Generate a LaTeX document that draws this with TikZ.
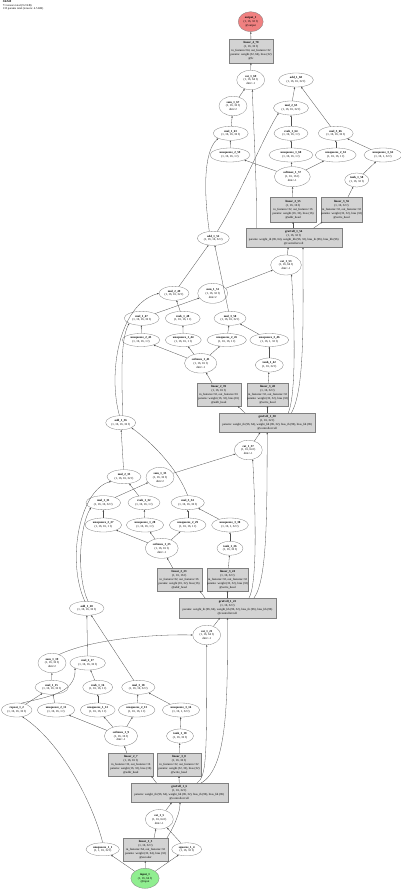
\documentclass[tikz,border=0pt]{standalone}
\usepackage{fontspec}
\setmainfont{Liberation Serif}
\usetikzlibrary{shapes.geometric,arrows.meta}
\definecolor{outred}{HTML}{F08080}
\definecolor{ingreen}{HTML}{90EE90}
\definecolor{boxgray}{HTML}{D3D3D3}
\definecolor{linegray}{HTML}{808080}
\definecolor{edgegray}{HTML}{505050}
\newcommand\zl[1]{\makebox[0pt]{#1}}
\newcommand\fsz{\fontsize{3}{3.9}\selectfont}
\begin{document}
\begin{tikzpicture}[x=1pt,y=-1pt,
  ell/.style={ellipse,draw=linegray,fill=white,line width=0.3pt,inner sep=0pt,align=center,font=\fsz},
  opbox/.style={rectangle,draw=linegray,fill=boxgray,line width=0.3pt,inner sep=0pt,align=center,font=\fsz},
  e/.style={draw=edgegray,line width=0.3pt,-{Triangle[length=1.7pt,width=1.4pt]}},
  e2/.style={ell,minimum height=14},
  e3/.style={ell,minimum height=19.5}]
\useasboundingbox (0,0) rectangle (400,890);
\fill[white] (0,0) rectangle (400,890);
\node[anchor=north west,inner sep=0pt,align=left,font=\fontsize{2.9}{3.4}\selectfont] (hdr) at (2.7,0.8)
 {\textbf{SRAM}\\71 tensors total (9.2 KB)\\133 params total (tensors: 4.5 KB)};

% ---------------- block 4 (top) ----------------
\node[e3,fill=outred,minimum width=25,minimum height=20] (out) at (250.7,21.7) {\textbf{output\_1}\\(1, 16, 32 f)\\@output};
\node[opbox,minimum width=44.6,minimum height=23.4] (lin4) at (251,51) {\zl{\textbf{linear\_4\_70}}\\\zl{(1, 16, 32 f)}\\\zl{in\_features=64, out\_features=32}\\\zl{params: weight (32, 64), bias (32)}\\\zl{@fc}};
\node[e3,minimum width=28] (cat69) at (250.7,80) {\textbf{cat\_1\_69}\\(1, 16, 64 f)\\dim=-1};
\node[e2,minimum width=34.7] (add4) at (296,80) {\textbf{add\_1\_68}\\(1, 16, 16, 32 f)};
\node[e3,minimum width=28] (sum4) at (233,106) {\textbf{sum\_1\_67}\\(1, 16, 32 f)\\dim=2};
\node[e2,minimum width=35] (mule4) at (291,108) {\textbf{mul\_2\_65}\\(1, 16, 16, 32 f)};
\node[e2,minimum width=35] (mulr4) at (230.7,133.3) {\textbf{mul\_1\_63}\\(1, 16, 16, 32 f)};
\node[e2,minimum width=34] (rsub4) at (291,133.3) {\textbf{rsub\_1\_64}\\(1, 16, 16, 1 f)};
\node[e2,minimum width=35] (mulw4) at (335.7,133.3) {\textbf{mul\_3\_66}\\(1, 16, 16, 32 f)};
\node[e2,minimum width=40] (unsqA4) at (230,155) {\textbf{unsqueeze\_2\_59}\\(1, 16, 16, 1 f)};
\node[e2,minimum width=44] (unsqB4) at (291,155) {\textbf{unsqueeze\_1\_60}\\(1, 16, 16, 1 f)};
\node[e2,minimum width=41] (unsqC4) at (335.7,155) {\textbf{unsqueeze\_2\_61}\\(1, 16, 16, 1 f)};
\node[e2,minimum width=38] (unsqD4) at (383,155) {\textbf{unsqueeze\_3\_62}\\(1, 16, 1, 32 f)};
\node[e3,minimum width=36,minimum height=20] (soft4) at (292.3,176.7) {\textbf{softmax\_1\_57}\\(1, 16, 16 f)\\dim=-1};
\node[e2,minimum width=24] (tanh4) at (356.7,180) {\textbf{tanh\_1\_58}\\(1, 16, 32 f)};
\node[opbox,minimum width=45.7,minimum height=24.4] (linA4) at (293,209.5) {\zl{\textbf{linear\_2\_55}}\\\zl{(1, 16, 16 f)}\\\zl{in\_features=32, out\_features=16}\\\zl{params: weight (16, 32), bias (16)}\\\zl{@addr\_head}};
\node[opbox,minimum width=41.7,minimum height=24.4] (linB4) at (341.5,209.5) {\zl{\textbf{linear\_3\_56}}\\\zl{(1, 16, 32 f)}\\\zl{in\_features=32, out\_features=32}\\\zl{params: weight (32, 32), bias (32)}\\\zl{@write\_head}};
\node[opbox,minimum width=96,minimum height=19] (gru4) at (293.7,237.8) {\zl{\textbf{gruCell\_1\_54}}\\\zl{(1, 16, 32 f)}\\\zl{params: weight\_ih (96, 64), weight\_hh (96, 32), bias\_ih (96), bias\_hh (96)}\\\zl{@controller/cell}};
\node[e3,minimum width=30.7,minimum height=20] (cat4) at (286,265) {\textbf{cat\_1\_53}\\(1, 16, 64 f)\\dim=-1};

% ---------------- block 3 ----------------
\node[e2,minimum width=32] (add3) at (213.3,238.3) {\textbf{add\_1\_52}\\(1, 16, 16, 32 f)};
\node[e2,minimum width=30] (mule3) at (174,293.3) {\textbf{mul\_2\_49}\\(1, 16, 16, 32 f)};
\node[e3,minimum width=30,minimum height=20] (sum3) at (212.7,293.3) {\textbf{sum\_1\_51}\\(1, 16, 32 f)\\dim=2};
\node[e2,minimum width=35] (mulr3) at (141.7,318.3) {\textbf{mul\_1\_47}\\(1, 16, 16, 32 f)};
\node[e2,minimum width=35] (rsub3) at (182.7,318.3) {\textbf{rsub\_1\_48}\\(1, 16, 16, 1 f)};
\node[e2,minimum width=32] (mulw3) at (230,318.3) {\textbf{mul\_3\_50}\\(1, 16, 16, 32 f)};
\node[ell,minimum width=37.7,minimum height=13] (unsqA3) at (141,340) {\textbf{unsqueeze\_2\_43}\\(1, 16, 16, 1 f)};
\node[ell,minimum width=36,minimum height=13] (unsqB3) at (183.3,340) {\textbf{unsqueeze\_1\_44}\\(1, 16, 16, 1 f)};
\node[ell,minimum width=39.4,minimum height=13] (unsqC3) at (226.7,340) {\textbf{unsqueeze\_2\_45}\\(1, 16, 16, 1 f)};
\node[ell,minimum width=39,minimum height=13] (unsqD3) at (269.3,340) {\textbf{unsqueeze\_3\_46}\\(1, 16, 1, 32 f)};
\node[e3,minimum width=32.3] (soft3) at (200.7,363.3) {\textbf{softmax\_1\_41}\\(1, 16, 16 f)\\dim=-1};
\node[e2,minimum width=28] (tanh3) at (269.3,365) {\textbf{tanh\_1\_42}\\(1, 16, 32 f)};
\node[opbox,minimum width=44,minimum height=22.7] (linA3) at (218.7,394.7) {\zl{\textbf{linear\_2\_39}}\\\zl{(1, 16, 16 f)}\\\zl{in\_features=32, out\_features=16}\\\zl{params: weight (16, 32), bias (16)}\\\zl{@addr\_head}};
\node[opbox,minimum width=41.7,minimum height=22.7] (linB3) at (267.5,394.7) {\zl{\textbf{linear\_3\_40}}\\\zl{(1, 16, 32 f)}\\\zl{in\_features=32, out\_features=32}\\\zl{params: weight (32, 32), bias (32)}\\\zl{@write\_head}};
\node[opbox,minimum width=95.7,minimum height=19] (gru3) at (267.2,422.8) {\zl{\textbf{gruCell\_1\_38}}\\\zl{(1, 16, 32 f)}\\\zl{params: weight\_ih (96, 64), weight\_hh (96, 32), bias\_ih (96), bias\_hh (96)}\\\zl{@controller/cell}};
\node[e3,minimum width=28] (cat3) at (248.3,450) {\textbf{cat\_1\_37}\\(1, 16, 64 f)\\dim=-1};

% ---------------- block 2 ----------------
\node[e2,minimum width=30] (add2) at (120.7,422.7) {\textbf{add\_1\_36}\\(1, 16, 16, 32 f)};
\node[e2,minimum width=34] (mule2) at (124,476.7) {\textbf{mul\_2\_33}\\(1, 16, 16, 32 f)};
\node[e3,minimum width=28,minimum height=20] (sum2) at (160,477.3) {\textbf{sum\_1\_35}\\(1, 16, 32 f)\\dim=2};
\node[e2,minimum width=34.7] (mulr2) at (103.3,502.7) {\textbf{mul\_1\_31}\\(1, 16, 16, 32 f)};
\node[e2,minimum width=32] (rsub2) at (144,502.7) {\textbf{rsub\_1\_32}\\(1, 16, 16, 1 f)};
\node[e2,minimum width=33.3] (mulw2) at (187.7,502.7) {\textbf{mul\_3\_34}\\(1, 16, 16, 32 f)};
\node[e2,minimum width=36.7] (unsqA2) at (103.3,525) {\textbf{unsqueeze\_2\_27}\\(1, 16, 16, 1 f)};
\node[e2,minimum width=37.3] (unsqB2) at (145,525) {\textbf{unsqueeze\_1\_28}\\(1, 16, 16, 1 f)};
\node[e2,minimum width=36.7] (unsqC2) at (187.7,525) {\textbf{unsqueeze\_2\_29}\\(1, 16, 16, 1 f)};
\node[e2,minimum width=36.7] (unsqD2) at (230,525) {\textbf{unsqueeze\_3\_30}\\(1, 16, 1, 32 f)};
\node[e3,minimum width=33,minimum height=20] (soft2) at (161.7,548.3) {\textbf{softmax\_1\_25}\\(1, 16, 16 f)\\dim=-1};
\node[e2,minimum width=26] (tanh2) at (230,548.3) {\textbf{tanh\_1\_26}\\(1, 16, 32 f)};
\node[opbox,minimum width=45,minimum height=22.4] (linA2) at (179.2,579.5) {\zl{\textbf{linear\_2\_23}}\\\zl{(1, 16, 16 f)}\\\zl{in\_features=32, out\_features=16}\\\zl{params: weight (16, 32), bias (16)}\\\zl{@addr\_head}};
\node[opbox,minimum width=41.6,minimum height=22.4] (linB2) at (227.5,579.5) {\zl{\textbf{linear\_3\_24}}\\\zl{(1, 16, 32 f)}\\\zl{in\_features=32, out\_features=32}\\\zl{params: weight (32, 32), bias (32)}\\\zl{@write\_head}};
\node[opbox,minimum width=96.4,minimum height=19.3] (gru2) at (227.5,608) {\zl{\textbf{gruCell\_1\_22}}\\\zl{(1, 16, 32 f)}\\\zl{params: weight\_ih (96, 64), weight\_hh (96, 32), bias\_ih (96), bias\_hh (96)}\\\zl{@controller/cell}};
\node[e3,minimum width=28] (cat2) at (206.7,635) {\textbf{cat\_1\_21}\\(1, 16, 64 f)\\dim=-1};

% ---------------- block 1 (bottom) ----------------
\node[e2,minimum width=34.7] (add1) at (86.7,608.3) {\textbf{add\_1\_20}\\(1, 16, 16, 32 f)};
\node[e3,minimum width=28] (sum1) at (52,663) {\textbf{sum\_1\_19}\\(1, 16, 32 f)\\dim=2};
\node[e2,minimum width=35.7] (mule1) at (87.7,663) {\textbf{mul\_2\_17}\\(1, 16, 16, 32 f)};
\node[e2,minimum width=33.3] (mulr1) at (51.7,687.3) {\textbf{mul\_1\_15}\\(1, 16, 16, 32 f)};
\node[e2,minimum width=30] (rsub1) at (97.7,687.3) {\textbf{rsub\_1\_16}\\(1, 16, 16, 1 f)};
\node[e2,minimum width=33.3] (mulw1) at (138.3,687.3) {\textbf{mul\_3\_18}\\(1, 16, 16, 32 f)};
\node[e2,minimum width=30.7] (rep) at (16.7,710) {\textbf{repeat\_1\_2}\\(1, 16, 16, 32 f)};
\node[e2,minimum width=37.7] (unsqA1) at (56,710) {\textbf{unsqueeze\_2\_11}\\(1, 16, 16, 1 f)};
\node[e2,minimum width=35] (unsqB1) at (97.7,710) {\textbf{unsqueeze\_1\_12}\\(1, 16, 16, 1 f)};
\node[e2,minimum width=36.7] (unsqC1) at (136.7,710) {\textbf{unsqueeze\_2\_13}\\(1, 16, 16, 1 f)};
\node[e2,minimum width=37.3] (unsqD1) at (181,710) {\textbf{unsqueeze\_3\_14}\\(1, 16, 1, 32 f)};
\node[e3,minimum width=33.3,minimum height=20] (soft1) at (121,736) {\textbf{softmax\_1\_9}\\(1, 16, 16 f)\\dim=-1};
\node[e2,minimum width=27] (tanh1) at (180,736) {\textbf{tanh\_1\_10}\\(1, 16, 32 f)};
\node[opbox,minimum width=45,minimum height=22.7] (linA1) at (130.8,764.7) {\zl{\textbf{linear\_2\_7}}\\\zl{(1, 16, 16 f)}\\\zl{in\_features=32, out\_features=16}\\\zl{params: weight (16, 32), bias (16)}\\\zl{@addr\_head}};
\node[opbox,minimum width=43.3,minimum height=22.7] (linB1) at (179,764.7) {\zl{\textbf{linear\_3\_8}}\\\zl{(1, 16, 32 f)}\\\zl{in\_features=32, out\_features=32}\\\zl{params: weight (32, 32), bias (32)}\\\zl{@write\_head}};
\node[opbox,minimum width=97,minimum height=19] (gru1) at (179.2,792.8) {\zl{\textbf{gruCell\_1\_6}}\\\zl{(1, 16, 32 f)}\\\zl{params: weight\_ih (96, 64), weight\_hh (96, 32), bias\_ih (96), bias\_hh (96)}\\\zl{@controller/cell}};
\node[e3,minimum width=28] (cat1) at (159.3,819.3) {\textbf{cat\_1\_5}\\(1, 16, 64 f)\\dim=-1};
\node[opbox,minimum width=44.4,minimum height=22.4] (lin1) at (145.5,849.5) {\zl{\textbf{linear\_1\_3}}\\\zl{(1, 16, 32 f)}\\\zl{in\_features=64, out\_features=32}\\\zl{params: weight (32, 64), bias (32)}\\\zl{@encoder}};
\node[ell,minimum width=33.3,minimum height=13] (unsq11) at (102.7,849.3) {\textbf{unsqueeze\_1\_1}\\(1, 1, 16, 32 f)};
\node[ell,minimum width=30,minimum height=13] (sq14) at (186.7,849.3) {\textbf{squeeze\_1\_4}\\(1, 16, 32 f)};
\node[e3,fill=ingreen,minimum width=28.3,minimum height=20] (inp) at (145,878.3) {\textbf{input\_1}\\(1, 16, 64 f)\\@input};

% ---------------- edges: block 4 ----------------
\draw[e] (lin4) -- (out);
\draw[e] (cat69) -- (lin4);
\draw[e] (sum4) -- (cat69);
\draw[e] ([xshift=11]gru4.north west) .. controls (257,180) and (253,120) .. (cat69.-80);
\draw[e] (mulr4) -- (sum4);
\draw[e] (mule4) -- (add4);
\draw[e] (mulw4) -- (add4);
\draw[e] (rsub4) -- (mule4);
\draw[e] (unsqB4) -- (rsub4);
\draw[e] (unsqA4) -- (mulr4);
\draw[e] (unsqC4) -- (mulw4);
\draw[e] (unsqD4) -- (mulw4);
\draw[e] (soft4) -- (unsqA4);
\draw[e] (soft4) -- (unsqB4);
\draw[e] (soft4) -- (unsqC4);
\draw[e] (tanh4) -- (unsqD4);
\draw[e] (linA4) -- (soft4);
\draw[e] (linB4) -- (tanh4);
\draw[e] (gru4.north -| linA4.south) -- (linA4.south);
\draw[e] ([xshift=68]gru4.north west) -- ([xshift=2]linB4.south west);
\draw[e] (cat4) -- ([xshift=-5.5]gru4.south);
\draw[e] (add3.120) .. controls (204,195) and (203,152) .. (mulr4.south west);
\draw[e] (add3.60) .. controls (240,195) and (262,140) .. (mule4.south west);
\draw[e] (sum3) -- (cat4);
\draw[e] ([xshift=-27]gru3.north east) .. controls (296,395) and (295,330) .. (cat4.-60);
\draw[e] ([xshift=-24]gru3.north east) .. controls (305,390) and (303,320) .. ([xshift=9.3]gru4.south);

% ---------------- edges: block 3 ----------------
\draw[e] (mule3) -- (add3);
\draw[e] (mulw3) -- (add3);
\draw[e] (rsub3) -- (mule3);
\draw[e] (mulr3) -- (sum3);
\draw[e] (unsqA3) -- (mulr3);
\draw[e] (unsqB3) -- (rsub3);
\draw[e] (unsqC3) -- (mulw3);
\draw[e] (unsqD3) -- (mulw3);
\draw[e] (soft3) -- (unsqA3);
\draw[e] (soft3) -- (unsqB3);
\draw[e] (soft3) -- (unsqC3);
\draw[e] (tanh3) -- (unsqD3);
\draw[e] (linA3) -- (soft3);
\draw[e] (linB3) -- (tanh3);
\draw[e] ([xshift=-22]gru3.north) -- ([xshift=-3]linA3.south east);
\draw[e] (gru3.north -| linB3.south) -- (linB3.south);
\draw[e] (cat3) -- ([xshift=-7]gru3.south);
\draw[e] (add2.100) .. controls (108,375) and (118,305) .. (mule3.west);
\draw[e] (add2.75) .. controls (122,380) and (120,340) .. (mulr3.south west);
\draw[e] (sum2) -- (cat3);
\draw[e] ([xshift=-27]gru2.north east) .. controls (257,585) and (256,520) .. (cat3.-65);
\draw[e] ([xshift=-22]gru2.north east) .. controls (267,580) and (267,520) .. (gru3.south);

% ---------------- edges: block 2 ----------------
\draw[e] (mule2) -- (add2);
\draw[e] (mulw2.north) .. controls (178,470) and (155,445) .. (add2.-25);
\draw[e] (rsub2) -- (mule2);
\draw[e] (mulr2) -- (sum2);
\draw[e] (unsqA2) -- (mulr2);
\draw[e] (unsqB2) -- (rsub2);
\draw[e] (unsqC2) -- (mulw2);
\draw[e] (unsqD2) -- (mulw2);
\draw[e] (soft2) -- (unsqA2);
\draw[e] (soft2) -- (unsqB2);
\draw[e] (soft2) -- (unsqC2);
\draw[e] (tanh2) -- (unsqD2);
\draw[e] (linA2) -- (soft2);
\draw[e] (linB2) -- (tanh2);
\draw[e] ([xshift=26]gru2.north west) -- ([xshift=-2]linA2.south east);
\draw[e] (gru2.north) -- (linB2.south);
\draw[e] (cat2) -- ([xshift=-7.5]gru2.south);
\draw[e] (add1.80) .. controls (76,575) and (80,525) .. (mulr2.south west);
\draw[e] (add1.105) .. controls (66,560) and (80,490) .. (mule2.200);
\draw[e] (sum1.50) .. controls (90,640) and (150,634) .. (cat2.west);
\draw[e] ([xshift=-31]gru1.north east) .. controls (206.7,776) and (206.7,760) .. (cat2.south);
\draw[e] ([xshift=-27]gru1.north east) .. controls (228,768) and (227.5,700) .. (gru2.south);

% ---------------- edges: block 1 ----------------
\draw[e] (mule1) -- (add1);
\draw[e] (mulw1) -- (add1);
\draw[e] (rsub1) -- (mule1);
\draw[e] (mulr1) -- (sum1);
\draw[e] (rep) -- (mulr1);
\draw[e] (rep.55) .. controls (45,697) and (76,694) .. (mule1.south west);
\draw[e] (unsqA1) -- (mulr1);
\draw[e] (unsqB1) -- (rsub1);
\draw[e] (unsqC1) -- (mulw1);
\draw[e] (unsqD1) -- (mulw1);
\draw[e] (soft1) -- (unsqA1);
\draw[e] (soft1) -- (unsqB1);
\draw[e] (soft1) -- (unsqC1);
\draw[e] (tanh1) -- (unsqD1);
\draw[e] (linA1) -- (soft1);
\draw[e] (linB1) -- (tanh1);
\draw[e] ([xshift=26]gru1.north west) -- ([xshift=-2]linA1.south east);
\draw[e] (gru1.north) -- (linB1.south);
\draw[e] (cat1) -- ([xshift=-7.5]gru1.south);
\draw[e] ([xshift=8.5]lin1.north) -- (cat1.250);
\draw[e] ([xshift=-1]lin1.north east) .. controls (175,825) and (180,812) .. ([xshift=0.8]gru1.south);
\draw[e] (sq14) -- (cat1);
\draw[e] (unsq11.north) .. controls (92,800) and (60,742) .. (rep.-50);
\draw[e] (inp) -- (unsq11);
\draw[e] (inp) -- (lin1);
\draw[e] (inp) -- (sq14);
\end{tikzpicture}
\end{document}
